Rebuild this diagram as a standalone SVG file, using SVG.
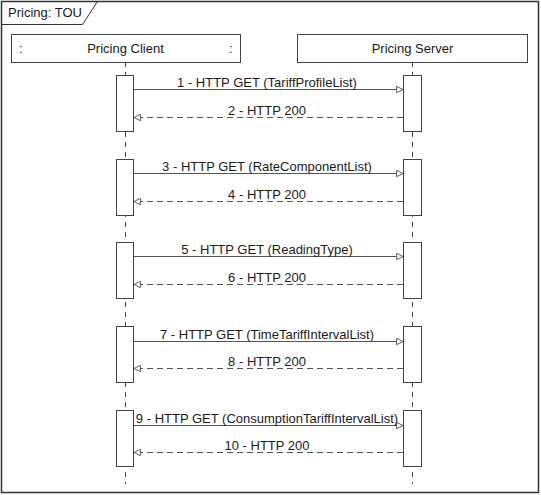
<svg xmlns="http://www.w3.org/2000/svg" width="541" height="495" viewBox="0 0 541 495">
<defs>
<style>
text{font-family:"Liberation Sans",Arial,sans-serif;font-size:13px;fill:#1a1a1a}
.box{fill:#fff;stroke:#444;stroke-width:1}
.life{stroke:#444;stroke-width:1;stroke-dasharray:5,5}
.act{fill:#fff;stroke:#444;stroke-width:1}
.call{stroke:#555;stroke-width:1;fill:none;marker-end:url(#open)}
.ret{stroke:#555;stroke-width:1;fill:none;stroke-dasharray:6,4;marker-end:url(#open)}
</style>
<marker id="open" viewBox="0 0 10 10" refX="9" refY="5" markerWidth="8" markerHeight="8" markerUnits="userSpaceOnUse" orient="auto">
<path d="M1,1 L9,5 L1,9 Z" fill="#fff" stroke="#555" stroke-width="1.2"/>
</marker>
</defs>
<rect width="541" height="495" fill="#fff"/>
<g id="frame">
<rect x="1.5" y="1.5" width="537" height="491" fill="none" stroke="#333" stroke-width="1.5"/>
<path d="M1.5,24.5 H82.5 L97.5,1.5" fill="none" stroke="#333" stroke-width="1"/>
<text x="8" y="17">Pricing: TOU</text>
</g>
<g id="lifelines">
<line class="life" x1="125.5" y1="62" x2="125.5" y2="484"/>
<line class="life" x1="412.5" y1="62" x2="412.5" y2="484"/>
</g>
<g id="client">
<rect class="box" x="11.5" y="34.5" width="229" height="28"/>
<text x="125.5" y="53" text-anchor="middle">Pricing Client</text>
<text x="19" y="53">:</text>
<text x="229" y="53">:</text>
</g>
<g id="server">
<rect class="box" x="297.5" y="34.5" width="230" height="28"/>
<text x="412.5" y="53" text-anchor="middle">Pricing Server</text>
</g>
<g id="activations">
<rect class="act" x="116.5" y="75.5" width="17" height="56"/>
<rect class="act" x="403.5" y="75.5" width="18" height="56"/>
<rect class="act" x="116.5" y="159.5" width="17" height="56"/>
<rect class="act" x="403.5" y="159.5" width="18" height="56"/>
<rect class="act" x="116.5" y="242.5" width="17" height="56"/>
<rect class="act" x="403.5" y="242.5" width="18" height="56"/>
<rect class="act" x="116.5" y="326.5" width="17" height="56"/>
<rect class="act" x="403.5" y="326.5" width="18" height="56"/>
<rect class="act" x="116.5" y="410.5" width="17" height="56"/>
<rect class="act" x="403.5" y="410.5" width="18" height="56"/>
</g>
<g id="connectors">
<line class="call" x1="134" y1="89.5" x2="403" y2="89.5"/>
<line class="ret" x1="403" y1="117.5" x2="134" y2="117.5"/>
<line class="call" x1="134" y1="173.5" x2="403" y2="173.5"/>
<line class="ret" x1="403" y1="201.5" x2="134" y2="201.5"/>
<line class="call" x1="134" y1="256.5" x2="403" y2="256.5"/>
<line class="ret" x1="403" y1="284.5" x2="134" y2="284.5"/>
<line class="call" x1="134" y1="341.5" x2="403" y2="341.5"/>
<line class="ret" x1="403" y1="368.5" x2="134" y2="368.5"/>
<line class="call" x1="134" y1="425.5" x2="403" y2="425.5"/>
<line class="ret" x1="403" y1="452.5" x2="134" y2="452.5"/>
</g>
<g id="labels">
<text x="267" y="87" text-anchor="middle">1 - HTTP GET (TariffProfileList)</text>
<text x="267" y="115" text-anchor="middle">2 - HTTP 200</text>
<text x="267" y="171" text-anchor="middle">3 - HTTP GET (RateComponentList)</text>
<text x="267" y="199" text-anchor="middle">4 - HTTP 200</text>
<text x="267" y="254" text-anchor="middle">5 - HTTP GET (ReadingType)</text>
<text x="267" y="282" text-anchor="middle">6 - HTTP 200</text>
<text x="267" y="339" text-anchor="middle">7 - HTTP GET (TimeTariffIntervalList)</text>
<text x="267" y="366" text-anchor="middle">8 - HTTP 200</text>
<text x="267" y="423" text-anchor="middle">9 - HTTP GET (ConsumptionTariffIntervalList)</text>
<text x="267" y="450" text-anchor="middle">10 - HTTP 200</text>
</g>
</svg>
